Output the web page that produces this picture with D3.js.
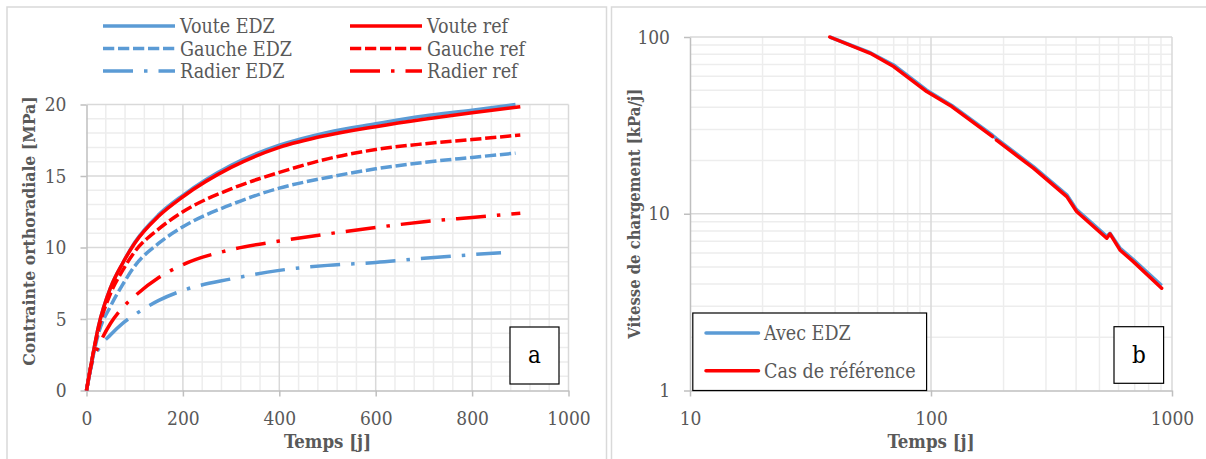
<!DOCTYPE html>
<html><head><meta charset="utf-8">
<script src="https://cdn.jsdelivr.net/npm/d3@7"></script>
<style>
html,body{margin:0;padding:0;background:#fff;}
svg text{font-family:"DejaVu Serif Condensed","DejaVu Serif",serif;font-stretch:condensed;}
</style></head>
<body>
<svg id="c" width="1206" height="459"></svg>
<script>
// ---------- DATA (panel a) ----------
const tempsRef = [0,10,25,50,75,100,150,200,300,400,500,600,700,800,900];
const tempsEDZ = [0,10,25,50,75,100,150,200,300,400,500,600,700,800,890];
const tempsRadierEDZ = [0,10,25,50,75,100,150,200,300,400,500,600,700,800,860];
const vouteEDZ  = [0,1.9,4.5,7.2,8.9,10.35,12.3,13.65,15.75,17.15,18.05,18.65,19.2,19.6,20.0];
const vouteRef  = [0,1.9,4.5,7.2,8.9,10.3,12.2,13.55,15.6,17.0,17.85,18.45,18.97,19.43,19.85];
const gaucheEDZ = [0,1.8,4.0,5.9,7.4,8.7,10.3,11.45,13.0,14.15,14.9,15.5,15.95,16.3,16.6];
const gaucheRef = [0,1.9,4.3,6.8,8.4,9.7,11.3,12.5,14.1,15.25,16.2,16.85,17.25,17.55,17.87];
const radierEDZ = [0,1.7,2.9,3.9,4.7,5.3,6.3,7.0,7.8,8.4,8.75,8.95,9.25,9.5,9.64];
const radierRef = [0,1.8,3.1,4.7,5.8,6.6,7.9,8.8,9.85,10.45,10.95,11.4,11.8,12.1,12.39];
const xTicksA = [0,200,400,600,800,1000];
const yTicksA = [0,5,10,15,20];
const legendA = ["Voute EDZ","Gauche EDZ","Radier EDZ","Voute ref","Gauche ref","Radier ref"];

// ---------- DATA (panel b) ----------
const tempsAvecEDZ = [38,56,70,96,122,180,187,266,366,402,536,553,608,691,906];
const vitesseAvecEDZ = [100,81.5,69.5,50,41,27.8,26.6,18.5,12.8,10.55,7.45,7.75,6.4,5.5,3.92];
const tempsCasRef1 = [38,56,70,96,122,180];
const vitesseCasRef1 = [100,80.9,68,49.1,40.4,27.3];
const tempsCasRef2 = [187,266,366,402,536,553,608,691,906];
const vitesseCasRef2 = [26.1,18.1,12.5,10.3,7.27,7.69,6.24,5.36,3.79];
const xTicksB = [10,100,1000];
const yTicksB = [1,10,100];
const legendB = ["Avec EDZ","Cas de référence"];

const BLUE="#5B9BD5", RED="#FF0000", TXT="#595959";
const svg = d3.select("#c");

svg.append("rect").attr("x",7).attr("y",7).attr("width",599.5).attr("height",470)
  .attr("fill","none").attr("stroke","#d9d9d9").attr("stroke-width",1.5);
svg.append("rect").attr("x",611.5).attr("y",7).attr("width",620).attr("height",470)
  .attr("fill","none").attr("stroke","#d9d9d9").attr("stroke-width",1.5);

// ================= PANEL A =================
const xA = d3.scaleLinear([0,1000],[86.5,568.5]);
const yA = d3.scaleLinear([0,20],[390.5,104.5]);
const gA = svg.append("g");
d3.range(0,1001,40).forEach(v=>{ if(v%200) gA.append("line").attr("x1",xA(v)).attr("x2",xA(v)).attr("y1",yA(0)).attr("y2",yA(20)).attr("stroke","#ededed").attr("stroke-width",1.5);});
d3.range(0,21,1).forEach(v=>{ if(v%5) gA.append("line").attr("y1",yA(v)).attr("y2",yA(v)).attr("x1",xA(0)).attr("x2",xA(1000)).attr("stroke","#ededed").attr("stroke-width",1.5);});
xTicksA.forEach(v=>{ if(v) gA.append("line").attr("x1",xA(v)).attr("x2",xA(v)).attr("y1",yA(0)).attr("y2",yA(20)).attr("stroke","#d9d9d9").attr("stroke-width",1.5);});
yTicksA.forEach(v=>{ if(v) gA.append("line").attr("y1",yA(v)).attr("y2",yA(v)).attr("x1",xA(0)).attr("x2",xA(1000)).attr("stroke","#d9d9d9").attr("stroke-width",1.5);});

function styleAxis(g){
  g.select(".domain").attr("stroke","#bfbfbf").attr("stroke-width",1.5);
  g.selectAll(".tick line").attr("stroke","#bfbfbf").attr("stroke-width",1.5);
  g.selectAll(".tick text").attr("fill",TXT).attr("font-size",19);
}
gA.append("g").attr("transform",`translate(0,${yA(0)})`)
  .call(d3.axisBottom(xA).tickValues(xTicksA).tickFormat(d3.format("d")).tickSize(6).tickSizeOuter(0).tickPadding(15))
  .call(styleAxis);
gA.append("g").attr("transform",`translate(${xA(0)},0)`)
  .call(d3.axisLeft(yA).tickValues(yTicksA).tickFormat(d3.format("d")).tickSize(6).tickSizeOuter(0).tickPadding(14))
  .call(styleAxis);

const seriesA = [
  {t:tempsEDZ, v:vouteEDZ, c:BLUE, d:null},
  {t:tempsRef, v:vouteRef, c:RED, d:null},
  {t:tempsEDZ, v:gaucheEDZ, c:BLUE, d:"11.25,3.75"},
  {t:tempsRef, v:gaucheRef, c:RED, d:"11.25,3.75"},
  {t:tempsRadierEDZ, v:radierEDZ, c:BLUE, d:"30,11,3.5,11"},
  {t:tempsRef, v:radierRef, c:RED, d:"30,11,3.5,11"}
];
const lineA = d3.line().x(d=>xA(d[0])).y(d=>yA(d[1])).curve(d3.curveMonotoneX);
seriesA.forEach(s=>{
  gA.append("path").attr("d",lineA(s.t.map((t,i)=>[t,s.v[i]])))
    .attr("fill","none").attr("stroke",s.c).attr("stroke-width",3.5)
    .attr("stroke-dasharray",s.d).attr("stroke-linejoin","round");
});
const legStyle = [[BLUE,null],[BLUE,"11.25,3.75"],[BLUE,"30,11,3.5,11"],[RED,null],[RED,"11.25,3.75"],[RED,"30,11,3.5,11"]];
legendA.forEach((name,i)=>{
  const col = Math.floor(i/3), row = i%3;
  const x0 = col ? 350 : 103, y0 = 26 + row*22.5;
  svg.append("line").attr("x1",x0).attr("x2",x0+72).attr("y1",y0).attr("y2",y0)
    .attr("stroke",legStyle[i][0]).attr("stroke-width",3.5).attr("stroke-dasharray",legStyle[i][1]);
  svg.append("text").attr("x",x0+77).attr("y",y0+7).attr("fill",TXT).attr("font-size",19.5).text(name);
});
svg.append("text").attr("x",(xA(0)+xA(1000))/2).attr("y",448).attr("text-anchor","middle")
  .attr("font-weight","bold").attr("font-size",18.5).attr("fill",TXT).text("Temps [j]");
svg.append("text").attr("transform",`translate(35,231) rotate(-90)`).attr("text-anchor","middle")
  .attr("font-weight","bold").attr("font-size",17.5).attr("fill",TXT).text("Contrainte orthoradiale [MPa]");
svg.append("rect").attr("x",510).attr("y",327).attr("width",49).attr("height",57).attr("fill","#fff").attr("stroke","#000").attr("stroke-width",1.2);
svg.append("text").attr("x",534.5).attr("y",363).attr("text-anchor","middle").attr("font-size",24).attr("fill","#000").text("a");

// ================= PANEL B =================
const xB = d3.scaleLog([10,1000],[690,1172]);
const yB = d3.scaleLog([1,100],[390.5,37]);
const gB = svg.append("g");
[10,100].forEach(dec=>{ for(let k=2;k<=9;k++){
  gB.append("line").attr("x1",xB(dec*k)).attr("x2",xB(dec*k)).attr("y1",yB(1)).attr("y2",yB(100)).attr("stroke","#ededed").attr("stroke-width",1.5);
}});
[1,10].forEach(dec=>{ for(let k=2;k<=9;k++){
  gB.append("line").attr("y1",yB(dec*k)).attr("y2",yB(dec*k)).attr("x1",xB(10)).attr("x2",xB(1000)).attr("stroke","#ededed").attr("stroke-width",1.5);
}});
xTicksB.forEach(v=>{ if(v>10) gB.append("line").attr("x1",xB(v)).attr("x2",xB(v)).attr("y1",yB(1)).attr("y2",yB(100)).attr("stroke","#d9d9d9").attr("stroke-width",1.5);});
yTicksB.forEach(v=>{ if(v>1) gB.append("line").attr("y1",yB(v)).attr("y2",yB(v)).attr("x1",xB(10)).attr("x2",xB(1000)).attr("stroke","#d9d9d9").attr("stroke-width",1.5);});
gB.append("g").attr("transform",`translate(0,${yB(1)})`)
  .call(d3.axisBottom(xB).tickValues(xTicksB).tickFormat(d3.format("d")).tickSize(6).tickSizeOuter(0).tickPadding(15))
  .call(styleAxis);
gB.append("g").attr("transform",`translate(${xB(10)},0)`)
  .call(d3.axisLeft(yB).tickValues(yTicksB).tickFormat(d3.format("d")).tickSize(6).tickSizeOuter(0).tickPadding(14))
  .call(styleAxis);

const lineB = d3.line().x(d=>xB(d[0])).y(d=>yB(d[1]));
gB.append("path").attr("d",lineB(tempsAvecEDZ.map((t,i)=>[t,vitesseAvecEDZ[i]])))
  .attr("fill","none").attr("stroke",BLUE).attr("stroke-width",3.5).attr("stroke-linejoin","round");
[[tempsCasRef1,vitesseCasRef1],[tempsCasRef2,vitesseCasRef2]].forEach(([t,v])=>{
  gB.append("path").attr("d",lineB(t.map((x,i)=>[x,v[i]])))
    .attr("fill","none").attr("stroke",RED).attr("stroke-width",3.5).attr("stroke-linejoin","round").attr("stroke-linecap","round");
});
svg.append("rect").attr("x",692.8).attr("y",313).attr("width",233.8).attr("height",77.5).attr("fill","#fff").attr("stroke","#000").attr("stroke-width",1.2);
legendB.forEach((name,i)=>{
  const y0 = 333 + i*37.7;
  svg.append("line").attr("x1",706).attr("x2",758.5).attr("y1",y0).attr("y2",y0).attr("stroke",i?RED:BLUE).attr("stroke-width",3.5).attr("stroke-linecap","round");
  svg.append("text").attr("x",764).attr("y",y0+7).attr("fill",TXT).attr("font-size",19.5).text(name);
});
svg.append("rect").attr("x",1114).attr("y",326.7).attr("width",49.6).attr("height",56.6).attr("fill","#fff").attr("stroke","#000").attr("stroke-width",1.2);
svg.append("text").attr("x",1138.8).attr("y",363).attr("text-anchor","middle").attr("font-size",24).attr("fill","#000").text("b");
svg.append("text").attr("x",(xB(10)+xB(1000))/2).attr("y",448).attr("text-anchor","middle")
  .attr("font-weight","bold").attr("font-size",18.5).attr("fill",TXT).text("Temps [j]");
svg.append("text").attr("transform",`translate(640,${(yB(1)+yB(100))/2}) rotate(-90)`).attr("text-anchor","middle")
  .attr("font-weight","bold").attr("font-size",16.5).attr("fill",TXT).text("Vitesse de chargement [kPa/j]");
</script>
</body></html>
